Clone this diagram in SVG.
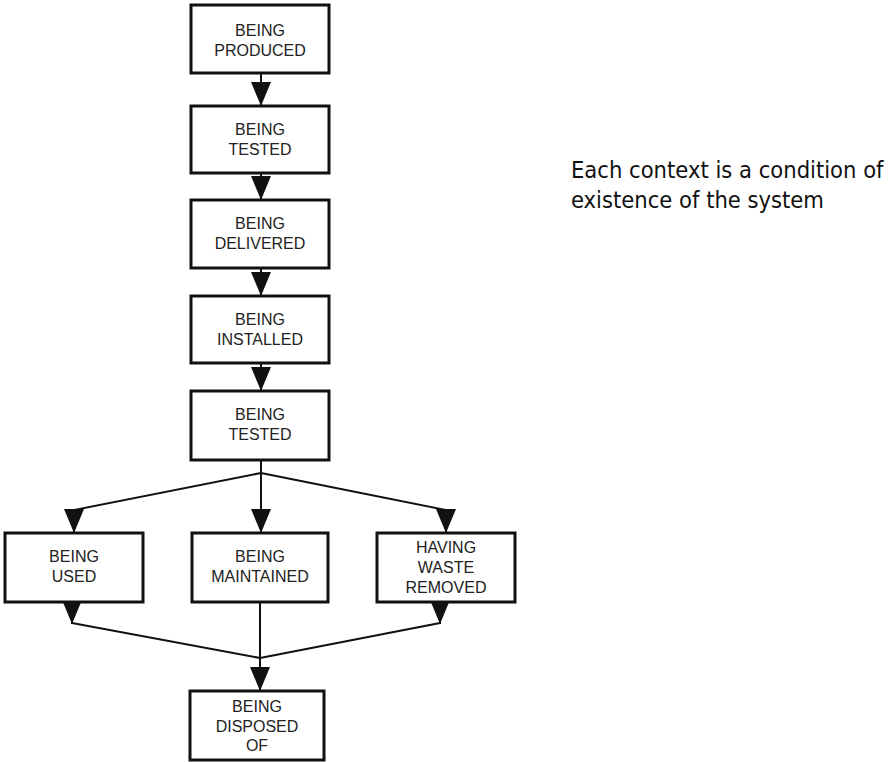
<svg xmlns="http://www.w3.org/2000/svg" width="888" height="762" viewBox="0 0 888 762">
<style>
.box{fill:#fff;stroke:#111;stroke-width:3}
.lbl{font-family:"Liberation Sans",Arial,sans-serif;font-size:16px;fill:#222;text-anchor:middle}
.con{fill:none;stroke:#111;stroke-width:2}
.note{font-family:"DejaVu Sans",Verdana,sans-serif;font-size:23.5px;fill:#111;font-stretch:condensed}
</style>
<defs>
<marker id="arr" viewBox="0 0 24 20" refX="24" refY="10" markerWidth="24" markerHeight="20" markerUnits="userSpaceOnUse" orient="auto">
<path d="M0,0 L24,10 L0,20 z" fill="#111"/>
</marker>
</defs>
<rect width="888" height="762" fill="#fff"/>
<g id="connectors">
<path class="con" d="M261,73 L261,106" marker-end="url(#arr)"/>
<path class="con" d="M261,173 L261,200" marker-end="url(#arr)"/>
<path class="con" d="M261,268 L261,296" marker-end="url(#arr)"/>
<path class="con" d="M261,363 L261,391" marker-end="url(#arr)"/>
<path class="con" d="M261,460 L261,473 L74,510 L74,533" marker-end="url(#arr)"/>
<path class="con" d="M261,473 L261,533" marker-end="url(#arr)"/>
<path class="con" d="M261,473 L446,510 L446,533" marker-end="url(#arr)"/>
<path class="con" d="M72,602 L72,624" marker-end="url(#arr)"/>
<path class="con" d="M72,623 L260,658"/>
<path class="con" d="M440,602 L440,624" marker-end="url(#arr)"/>
<path class="con" d="M440,623 L260,658"/>
<path class="con" d="M260,602 L260,691" marker-end="url(#arr)"/>
</g>
<g id="n1"><rect class="box" x="191" y="5" width="138" height="68"/><text class="lbl" x="260" y="36">BEING</text><text class="lbl" x="260" y="56">PRODUCED</text></g>
<g id="n2"><rect class="box" x="191" y="106" width="138" height="67"/><text class="lbl" x="260" y="135">BEING</text><text class="lbl" x="260" y="155">TESTED</text></g>
<g id="n3"><rect class="box" x="191" y="200" width="138" height="68"/><text class="lbl" x="260" y="229">BEING</text><text class="lbl" x="260" y="249">DELIVERED</text></g>
<g id="n4"><rect class="box" x="191" y="296" width="138" height="67"/><text class="lbl" x="260" y="325">BEING</text><text class="lbl" x="260" y="345">INSTALLED</text></g>
<g id="n5"><rect class="box" x="191" y="391" width="138" height="69"/><text class="lbl" x="260" y="420">BEING</text><text class="lbl" x="260" y="440">TESTED</text></g>
<g id="n6"><rect class="box" x="5" y="533" width="138" height="69"/><text class="lbl" x="74" y="562">BEING</text><text class="lbl" x="74" y="582">USED</text></g>
<g id="n7"><rect class="box" x="192" y="533" width="136" height="69"/><text class="lbl" x="260" y="562">BEING</text><text class="lbl" x="260" y="582">MAINTAINED</text></g>
<g id="n8"><rect class="box" x="377" y="533" width="138" height="69"/><text class="lbl" x="446" y="553">HAVING</text><text class="lbl" x="446" y="573">WASTE</text><text class="lbl" x="446" y="593">REMOVED</text></g>
<g id="n9"><rect class="box" x="190" y="691" width="134" height="69"/><text class="lbl" x="257" y="712">BEING</text><text class="lbl" x="257" y="732">DISPOSED</text><text class="lbl" x="257" y="751">OF</text></g>
<g id="note"><text class="note" x="571" y="178">Each context is a condition of</text><text class="note" x="571" y="208">existence of the system</text></g>
</svg>
